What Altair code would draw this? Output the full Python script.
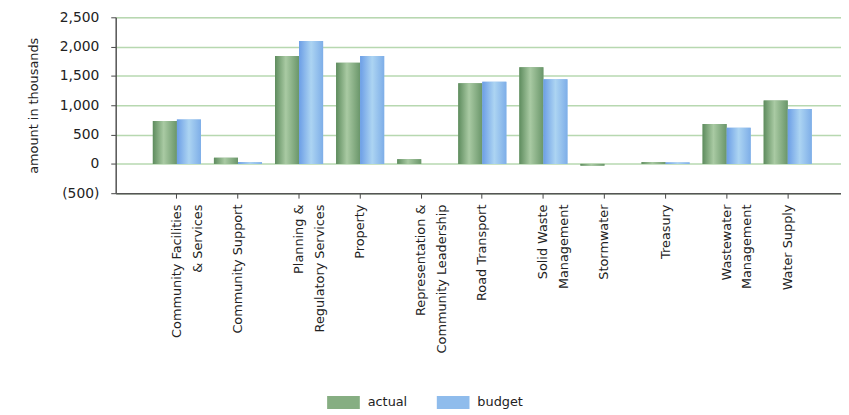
import altair as alt
import pandas as pd

categories = [
    "Community Facilities\n& Services",
    "Community Support",
    "Planning &\nRegulatory Services",
    "Property",
    "Representation &\nCommunity Leadership",
    "Road Transport",
    "Solid Waste\nManagement",
    "Stormwater",
    "Treasury",
    "Wastewater\nManagement",
    "Water Supply",
]
actual = [730, 105, 1840, 1725, 80, 1375, 1650, -30, 30, 680, 1080]
budget = [755, 30, 2095, 1840, 0, 1400, 1445, 0, 25, 615, 935]
series = ["actual", "budget"]

rows = []
for c, a, b in zip(categories, actual, budget):
    rows.append({"category": c, "series": "actual", "amount": a})
    rows.append({"category": c, "series": "budget", "amount": b})
df = pd.DataFrame(rows)

green_grad = {
    "gradient": "linear", "x1": 0, "y1": 0, "x2": 1, "y2": 0,
    "stops": [
        {"offset": 0, "color": "#5e8c5e"},
        {"offset": 0.45, "color": "#a9caa3"},
        {"offset": 1, "color": "#6a966a"},
    ],
}
blue_grad = {
    "gradient": "linear", "x1": 0, "y1": 0, "x2": 1, "y2": 0,
    "stops": [
        {"offset": 0, "color": "#6c9ee6"},
        {"offset": 0.5, "color": "#acd4f2"},
        {"offset": 1, "color": "#7eaee8"},
    ],
}

FONT = "DejaVu Sans"

x_enc = alt.X(
    "category:N",
    sort=None,
    title=None,
    scale=alt.Scale(paddingInner=0, paddingOuter=0.437, align=0.574),
    axis=alt.Axis(
        labelAngle=270,
        labelAlign="right",
        labelBaseline="middle",
        labelExpr="split(datum.label, '\\n')",
        labelPadding=6,
        labelFont=FONT,
        labelFontSize=13,
        labelColor="#222222",
        labelLineHeight=21,
        tickSize=5,
        tickColor="#444444",
        domainColor="#555555",
        domainWidth=1.5,
        grid=False,
        labelOverlap=False,
    ),
)
y_enc = alt.Y(
    "amount:Q",
    title="amount in thousands",
    scale=alt.Scale(domain=[-500, 2500], nice=False),
    axis=alt.Axis(
        values=[-500, 0, 500, 1000, 1500, 2000, 2500],
        labelExpr="datum.value < 0 ? '(' + format(-datum.value, ',') + ')' : format(datum.value, ',')",
        labelFont=FONT,
        labelFontSize=14,
        labelColor="#222222",
        labelPadding=12,
        titleFont=FONT,
        titleFontSize=13,
        titleFontWeight="normal",
        titleColor="#222222",
        titlePadding=19,
        tickSize=5,
        tickColor="#444444",
        domainColor="#555555",
        domainWidth=1.5,
        gridColor="#b7d8b0",
        gridWidth=1.5,
    ),
)
xoff = alt.XOffset("series:N", sort=series, scale=alt.Scale(paddingInner=0, paddingOuter=0.27))

base = alt.Chart(df)

flat = base.mark_bar().encode(
    x=x_enc,
    y=y_enc,
    xOffset=xoff,
    color=alt.Color(
        "series:N",
        sort=series,
        scale=alt.Scale(domain=series, range=["#86ae82", "#8fbcec"]),
        legend=alt.Legend(
            title=None,
            orient="none",
            direction="horizontal",
            legendX=217,
            legendY=376,
            symbolType="M-1.25,-0.5h2.5v1h-2.5z",
            symbolSize=700,
            symbolStrokeWidth=0,
            labelFont=FONT,
            labelFontSize=13,
            labelColor="#222222",
            columnPadding=28,
            labelOffset=11,
        ),
    ),
)

grad = base.mark_bar().encode(
    x=x_enc,
    y=y_enc,
    xOffset=xoff,
    color=alt.condition("datum.series === 'actual'", alt.value(green_grad), alt.value(blue_grad)),
)

chart = (
    alt.layer(flat, grad)
    .properties(width=734, height=178)
    .configure_view(stroke=None)
    .configure(padding={"left": 19, "top": 0, "right": 0, "bottom": 0})
)

chart.save("out.html", embed_options={"renderer": "svg", "actions": False})
